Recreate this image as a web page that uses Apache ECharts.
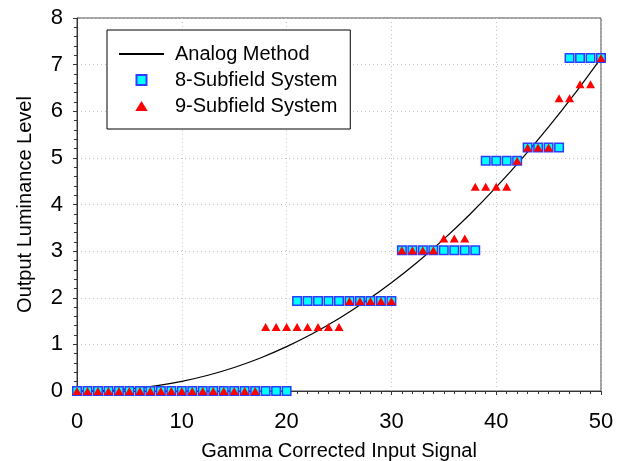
<!DOCTYPE html>
<html>
<head>
<meta charset="utf-8">
<script src="https://cdn.jsdelivr.net/npm/echarts@6/dist/echarts.min.js"></script>
<style>
  html, body { margin: 0; padding: 0; background: #fff; }
  #chart { width: 634px; height: 461px; }
</style>
</head>
<body>
<div id="chart"></div>
<script>
// analog curve
const analogX = [0, 2.5, 5, 7.5, 10, 12.5, 15, 17.5, 20, 22.5, 25, 27.5, 30, 32.5, 35, 37.5, 40, 42.5, 45, 47.5, 50];
const analogY = [0, 0.01, 0.045, 0.11, 0.207, 0.338, 0.505, 0.709, 0.952, 1.232, 1.554, 1.917, 2.321, 2.767, 3.258, 3.791, 4.371, 4.994, 5.663, 6.378, 7.14];

// one level per input step 0..50
const sub8 = [
  0, 0, 0, 0, 0, 0, 0, 0, 0, 0,
  0, 0, 0, 0, 0, 0, 0, 0, 0, 0,
  0, 1.93, 1.93, 1.93, 1.93, 1.93, 1.93, 1.93, 1.93, 1.93,
  1.93, 3.02, 3.02, 3.02, 3.02, 3.02, 3.02, 3.02, 3.02, 4.94,
  4.94, 4.94, 4.94, 5.22, 5.22, 5.22, 5.22, 7.14, 7.14, 7.14,
  7.14
];
const sub9 = [
  0, 0, 0, 0, 0, 0, 0, 0, 0, 0,
  0, 0, 0, 0, 0, 0, 0, 0, 1.37, 1.37,
  1.37, 1.37, 1.37, 1.37, 1.37, 1.37, 1.93, 1.93, 1.93, 1.93,
  1.93, 3.02, 3.02, 3.02, 3.02, 3.27, 3.27, 3.27, 4.38, 4.38,
  4.38, 4.38, 4.94, 5.22, 5.22, 5.22, 6.28, 6.28, 6.58, 6.58,
  7.14
];

const chart = echarts.init(document.getElementById('chart'));
const font = 'Liberation Sans, Arial, sans-serif';
const squarePath = 'path://M0,0L10,0L10,10L0,10Z';
const triPath = 'path://M5,0L10,8L0,8Z';

chart.setOption({
  animation: false,
  textStyle: { fontFamily: font },
  grid: {
    left: 77, right: 33, top: 18, bottom: 70,
    outerBoundsMode: 'none',
    containLabel: false,
    show: true, borderColor: '#444', borderWidth: 1, backgroundColor: 'transparent'
  },
  legend: {
    orient: 'vertical',
    left: 107, top: 30,
    backgroundColor: '#fff',
    borderColor: '#000',
    borderWidth: 1,
    padding: [14, 13, 13, 11],
    itemWidth: 45,
    itemHeight: 10,
    itemGap: 6,
    textStyle: { fontSize: 20, color: '#000', fontFamily: font, padding: [0, 0, 0, 6] },
    data: [
      { name: 'Analog Method', itemStyle: { opacity: 0 } },
      { name: '8-Subfield System', icon: squarePath },
      { name: '9-Subfield System', icon: triPath, itemStyle: { borderWidth: 0 } }
    ]
  },
  xAxis: {
    type: 'value',
    min: 0, max: 50, interval: 10,
    name: 'Gamma Corrected Input Signal',
    nameLocation: 'middle',
    nameGap: 50,
    nameTextStyle: { fontSize: 20, color: '#000' },
    axisLine: { show: true, lineStyle: { color: '#333', width: 1 } },
    axisTick: { show: true, inside: false, length: 4, lineStyle: { color: '#333' } },
    minorTick: { show: true, splitNumber: 10, length: 3, lineStyle: { color: '#333' } },
    axisLabel: { fontSize: 22, color: '#000', margin: 20 },
    splitLine: { show: true, lineStyle: { color: '#c4c4c4', type: [1, 3] } }
  },
  yAxis: {
    type: 'value',
    min: 0, max: 8, interval: 1,
    name: 'Output Luminance Level',
    nameLocation: 'middle',
    nameGap: 42,
    nameTextStyle: { fontSize: 20, color: '#000' },
    axisLine: { show: true, lineStyle: { color: '#333', width: 1 } },
    axisTick: { show: true, inside: false, length: 4, lineStyle: { color: '#333' } },
    minorTick: { show: true, splitNumber: 5, length: 3, lineStyle: { color: '#333' } },
    axisLabel: { fontSize: 22, color: '#000', margin: 14 },
    splitLine: { show: true, lineStyle: { color: '#c4c4c4', type: [1, 3] } }
  },
  series: [
    {
      name: 'Analog Method',
      type: 'line',
      data: analogX.map((x, i) => [x, analogY[i]]),
      smooth: 0.3,
      symbol: 'none',
      lineStyle: { color: '#000', width: 1.2 },
      itemStyle: { color: '#000' },
      z: 2
    },
    {
      name: '8-Subfield System',
      type: 'scatter',
      data: sub8.map((y, i) => [i, y]),
      symbol: 'rect',
      symbolSize: 8.5,
      itemStyle: { color: '#00ffff', borderColor: '#2a3cff', borderWidth: 1.5, opacity: 1 },
      z: 3
    },
    {
      name: '9-Subfield System',
      type: 'scatter',
      data: sub9.map((y, i) => [i, y]),
      symbol: 'triangle',
      symbolSize: [9, 8],
      itemStyle: { color: '#ff0000', opacity: 1 },
      z: 4
    }
  ]
});
</script>
</body>
</html>
